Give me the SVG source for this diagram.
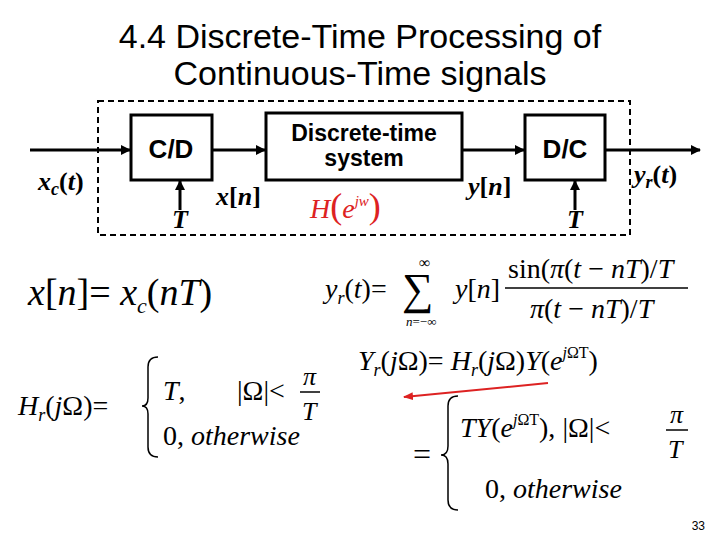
<svg xmlns="http://www.w3.org/2000/svg" width="720" height="540" viewBox="0 0 720 540">
<defs>
<marker id="ah" markerWidth="10" markerHeight="10" refX="9" refY="5" orient="auto" markerUnits="userSpaceOnUse"><path d="M0,0 L10,5 L0,10 z" fill="#000"/></marker>
<marker id="rh" markerWidth="10" markerHeight="8" refX="9" refY="4" orient="auto" markerUnits="userSpaceOnUse"><path d="M0,0 L10,4 L0,8 z" fill="#d22"/></marker>
</defs>
<style>
.t{font-family:"Liberation Sans",Arial,sans-serif;font-size:34px;text-anchor:middle}
.b{fill:none;stroke:#000;stroke-width:3}
.bl{font-family:"Liberation Sans",Arial,sans-serif;font-weight:bold;text-anchor:middle}
.e{font-family:"Liberation Serif","Times New Roman",serif}
.i{font-style:italic}
.c{stroke:#000;stroke-width:3;fill:none}
.br{fill:none;stroke:#000;stroke-width:1.5}
</style>
<rect width="720" height="540" fill="#fff"/>
<text class="t" x="360" y="48">4.4 Discrete-Time Processing of</text>
<text class="t" x="360" y="85">Continuous-Time signals</text>
<rect x="98" y="101" width="532" height="134" fill="none" stroke="#000" stroke-width="2" stroke-dasharray="6,4"/>
<g id="cd"><rect class="b" x="131" y="115" width="81" height="65"/><text class="bl" x="171" y="158" font-size="26">C/D</text></g>
<g id="dts"><rect class="b" x="266" y="113" width="196" height="67"/><text class="bl" x="364" y="141" font-size="23">Discrete-time</text><text class="bl" x="364" y="166" font-size="23">system</text></g>
<g id="dc"><rect class="b" x="525" y="115" width="80" height="65"/><text class="bl" x="565" y="158" font-size="26">D/C</text></g>
<g id="connectors">
<line class="c" x1="30" y1="150" x2="130" y2="150" marker-end="url(#ah)"/>
<line class="c" x1="212" y1="150" x2="265" y2="150" marker-end="url(#ah)"/>
<line class="c" x1="462" y1="150" x2="524" y2="150" marker-end="url(#ah)"/>
<line class="c" x1="605" y1="150" x2="700" y2="150" marker-end="url(#ah)"/>
<line class="c" x1="180" y1="210" x2="180" y2="181" marker-end="url(#ah)"/>
<line class="c" x1="575" y1="210" x2="575" y2="181" marker-end="url(#ah)"/>
</g>
<g font-family="Liberation Serif,serif" font-weight="bold" font-size="26">
<text x="38" y="190" font-style="italic">x<tspan font-size="18" dy="5">c</tspan><tspan dy="-5" font-style="normal">(</tspan>t<tspan font-style="normal">)</tspan></text>
<text x="172" y="228" font-style="italic">T</text>
<text x="216" y="205" font-style="italic">x<tspan font-style="normal">[</tspan>n<tspan font-style="normal">]</tspan></text>
<text x="468" y="195" font-style="italic">y<tspan font-style="normal">[</tspan>n<tspan font-style="normal">]</tspan></text>
<text x="567" y="228" font-style="italic">T</text>
<text x="634" y="183" font-style="italic">y<tspan font-size="18" dy="5">r</tspan><tspan dy="-5" font-style="normal">(</tspan>t<tspan font-style="normal">)</tspan></text>
</g>
<text x="310" y="218" font-family="Liberation Serif,serif" font-size="28" fill="#d22" font-style="italic">H<tspan font-style="normal" font-size="36">(</tspan>e<tspan font-size="15" dy="-12">jw</tspan><tspan dy="12" font-style="normal" font-size="36">)</tspan></text>
<text class="e" x="28" y="305" font-size="38"><tspan class="i">x</tspan>[<tspan class="i">n</tspan>]= <tspan class="i">x</tspan><tspan class="i" font-size="22" dy="8">c</tspan><tspan dy="-8">(</tspan><tspan class="i">nT</tspan>)</text>
<text class="e" x="325" y="298" font-size="28"><tspan class="i">y</tspan><tspan class="i" font-size="18" dy="6">r</tspan><tspan dy="-6">(</tspan><tspan class="i">t</tspan>)=</text>
<text class="e" x="402" y="304" font-size="44">∑</text>
<text class="e" x="419" y="268" font-size="16">∞</text>
<text class="e" x="406" y="326" font-size="13"><tspan class="i">n</tspan>=−∞</text>
<text class="e" x="455" y="298" font-size="28"><tspan class="i">y</tspan>[<tspan class="i">n</tspan>]</text>
<text class="e" x="508" y="278" font-size="28">sin(<tspan class="i">π</tspan>(<tspan class="i">t</tspan> − <tspan class="i">nT</tspan>)/<tspan class="i">T</tspan></text>
<line x1="505" y1="288" x2="688" y2="288" stroke="#000" stroke-width="1.5"/>
<text class="e i" x="530" y="318" font-size="28">π<tspan font-style="normal">(</tspan>t <tspan font-style="normal">−</tspan> nT<tspan font-style="normal">)/</tspan>T</text>
<text class="e" x="358" y="370" font-size="28"><tspan class="i">Y</tspan><tspan class="i" font-size="18" dy="6">r</tspan><tspan dy="-6">(</tspan><tspan class="i">j</tspan>Ω)= <tspan class="i">H</tspan><tspan class="i" font-size="18" dy="6">r</tspan><tspan dy="-6">(</tspan><tspan class="i">j</tspan>Ω)<tspan class="i">Y</tspan>(<tspan class="i">e</tspan><tspan class="i" font-size="16" dy="-12">j</tspan><tspan font-size="16">ΩT</tspan><tspan dy="12">)</tspan></text>
<line x1="548" y1="383" x2="404" y2="397" stroke="#d22" stroke-width="2" marker-end="url(#rh)"/>
<text class="e" x="18" y="415" font-size="28"><tspan class="i">H</tspan><tspan class="i" font-size="18" dy="6">r</tspan><tspan dy="-6">(</tspan><tspan class="i">j</tspan>Ω)=</text>
<path class="br" d="M158,357 Q148,357 148,367 L148,398 Q148,406 142,406 Q148,406 148,414 L148,447 Q148,457 158,457"/>
<text class="e" x="163" y="400" font-size="28"><tspan class="i">T</tspan>,</text>
<text class="e" x="237" y="400" font-size="28">|Ω|&lt;</text>
<text class="e i" x="303" y="385" font-size="26">π</text>
<line x1="300" y1="392" x2="320" y2="392" stroke="#000" stroke-width="1.5"/>
<text class="e i" x="302" y="420" font-size="26">T</text>
<text class="e" x="163" y="445" font-size="28">0, <tspan class="i">otherwise</tspan></text>
<text class="e" x="413" y="465" font-size="32">=</text>
<path class="br" d="M458,396 Q448,396 448,406 L448,446 Q448,455 441,455 Q448,455 448,464 L448,500 Q448,510 458,510"/>
<text class="e" x="460" y="437" font-size="28"><tspan class="i">TY</tspan>(<tspan class="i">e</tspan><tspan class="i" font-size="16" dy="-12">j</tspan><tspan font-size="16">ΩT</tspan><tspan dy="12">),</tspan> |Ω|&lt;</text>
<text class="e i" x="670" y="423" font-size="26">π</text>
<line x1="666" y1="430" x2="688" y2="430" stroke="#000" stroke-width="1.5"/>
<text class="e i" x="668" y="458" font-size="26">T</text>
<text class="e" x="485" y="498" font-size="28">0, <tspan class="i">otherwise</tspan></text>
<text x="705" y="530" font-family="Liberation Sans,sans-serif" font-size="12" text-anchor="end">33</text>
</svg>
